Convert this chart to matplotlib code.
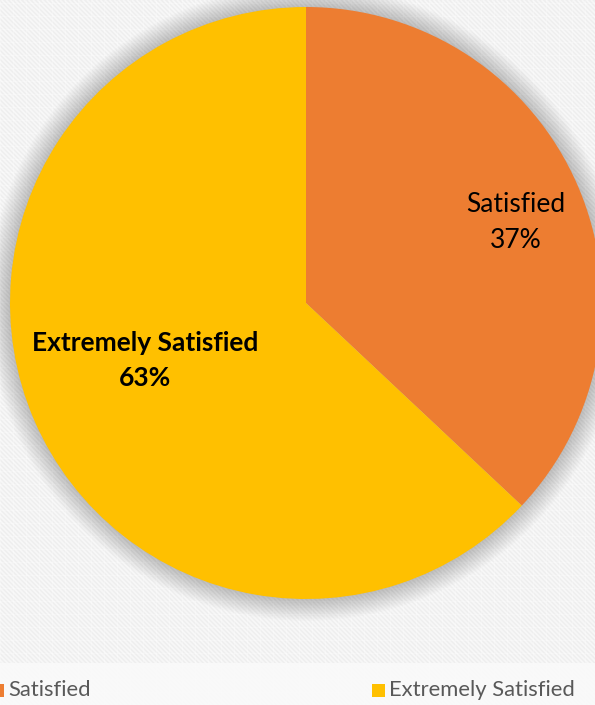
import matplotlib
matplotlib.use('Agg')

import matplotlib.pyplot as plt
import numpy as np
from matplotlib.collections import LineCollection
from matplotlib.patches import Circle, Rectangle

categories = ['Satisfied', 'Extremely Satisfied']
shares = [37, 63]
colors = ['#ED7D31', '#FFC000']

W, H = 595, 705
plt.rcParams['font.family'] = ['Lato', 'DejaVu Sans']

fig = plt.figure(figsize=(W / 100, H / 100), dpi=100)
fig.patch.set_facecolor('#eeeeee')
ax = fig.add_axes([0, 0, 1, 1])
ax.set_xlim(0, W)
ax.set_ylim(0, H)
ax.axis('off')

# striped backdrop
offs = np.arange(-H, W + H, 4.5)
diag = [[(o, H), (o + H, 0)] for o in offs]
ax.add_collection(LineCollection(diag, colors='white', linewidths=1.3, alpha=0.55, zorder=0))
grid_v = [[(x, 0), (x, H)] for x in np.arange(0, W, 13)]
grid_h = [[(0, y), (W, y)] for y in np.arange(0, H, 13)]
ax.add_collection(LineCollection(grid_v + grid_h, colors='white', linewidths=0.8, alpha=0.25, zorder=0))

cx, cy, r = 306, H - 303, 296

# soft shadow round the pie
for k in range(14):
    ax.add_patch(Circle((cx, cy), r + 1 + k * 1.6, color='black', alpha=0.014, lw=0, zorder=1))

wedges, _ = ax.pie(shares, colors=colors, startangle=90, counterclock=False,
                   center=(cx, cy), radius=r, wedgeprops=dict(linewidth=0, zorder=2))
ax.set_xlim(0, W)
ax.set_ylim(0, H)

# data labels inside the slices
label_pos = [0.76, 0.578]
label_shift = [-2.5, -3.6]
weights = ['normal', 'bold']
for w, name, val, f, dt, wt in zip(wedges, categories, shares, label_pos, label_shift, weights):
    mid = np.deg2rad((w.theta1 + w.theta2) / 2 + dt)
    ax.text(cx + f * r * np.cos(mid), cy + f * r * np.sin(mid), f'{name}\n{val}%',
            ha='center', va='center', fontsize=19, fontweight=wt, color='black',
            linespacing=1.55, zorder=3)

# legend band
ax.add_patch(Rectangle((0, 0), W, H - 663, color='#fafafa', alpha=0.9, lw=0, zorder=1))
legend_x = [-9, 372]
for x, name, c in zip(legend_x, categories, colors):
    ax.add_patch(Rectangle((x, H - 697), 13, 13, color=c, lw=0, zorder=3))
    ax.text(x + 17, H - 690, name, ha='left', va='center', fontsize=15.8,
            color='#595959', zorder=3)

fig.savefig('out.png', dpi=100, facecolor=fig.get_facecolor())
